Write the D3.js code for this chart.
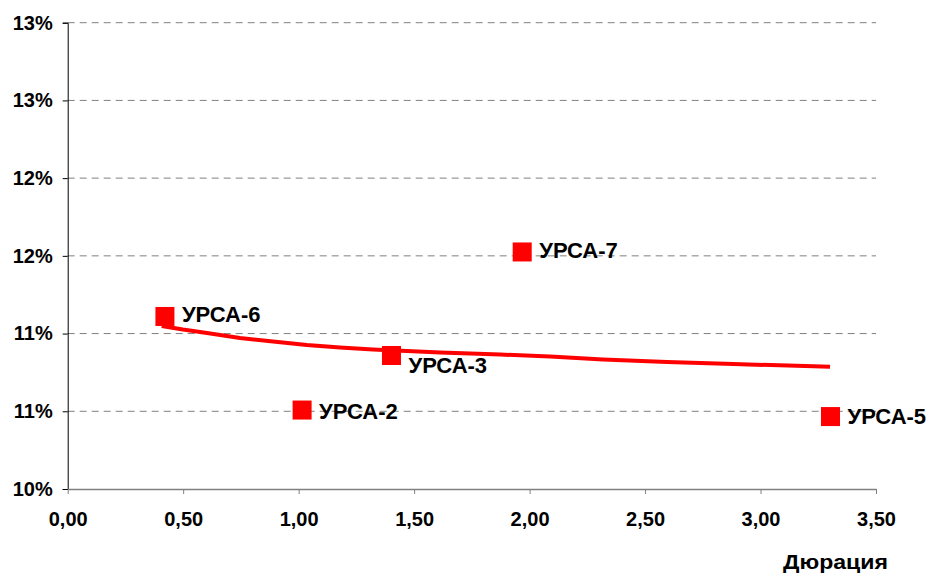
<!DOCTYPE html>
<html>
<head>
<meta charset="utf-8">
<script src="https://cdn.jsdelivr.net/npm/d3@7"></script>
<style>
    body { margin: 0; background: #fff; }
    text { font-family: "Liberation Sans", Arial, sans-serif; font-weight: bold; fill: #000; }
</style>
</head>
<body>
<svg id="chart" width="929" height="575"></svg>
<script>
// bonds: duration (years) and yield (%)
const bondNames = ["УРСА-6", "УРСА-2", "УРСА-3", "УРСА-7", "УРСА-5"];
const bondDuration = [0.421, 1.015, 1.402, 1.968, 3.303];
const bondYield = [11.11, 10.508, 10.859, 11.525, 10.466];

// fitted curve
const curveDuration = [0.407, 0.499, 0.603, 0.746, 0.889, 1.036, 1.179, 1.322, 1.469, 1.613, 1.873, 2.089, 2.318, 2.596, 2.882, 3.193, 3.301];
const curveYield = [11.049, 11.026, 11.004, 10.971, 10.949, 10.926, 10.910, 10.897, 10.888, 10.878, 10.865, 10.852, 10.833, 10.817, 10.804, 10.791, 10.787];

const xTicks = [0, 0.5, 1, 1.5, 2, 2.5, 3, 3.5];
const xTickLabels = ["0,00", "0,50", "1,00", "1,50", "2,00", "2,50", "3,00", "3,50"];
const yTicks = [10, 10.5, 11, 11.5, 12, 12.5, 13];
const yTickLabels = ["10%", "11%", "11%", "12%", "12%", "13%", "13%"];

const chart = d3.select("#chart");
const plotLeft = 67.7, plotRight = 876, plotTop = 22.7, plotBottom = 489;
const red = "#ff0000";
const gridColor = "#808080";

const x = d3.scaleLinear().domain([0, 3.5]).range([plotLeft, plotRight]);
const y = d3.scaleLinear().domain([10, 13]).range([plotBottom, plotTop]);

// gridlines
chart.append("g")
    .selectAll("line")
    .data(yTicks.slice(1))
    .enter()
    .append("line")
    .attr("x1", plotLeft)
    .attr("x2", plotRight)
    .attr("y1", d => y(d))
    .attr("y2", d => y(d))
    .attr("stroke", gridColor)
    .attr("stroke-width", 1)
    .attr("stroke-dasharray", "7,5");

// y axis
const yAxis = chart.append("g")
    .attr("transform", "translate(" + plotLeft + ",0)")
    .call(d3.axisLeft(y).tickValues(yTicks).tickSize(5).tickPadding(10)
        .tickFormat((d, i) => yTickLabels[i]));
yAxis.select(".domain").attr("stroke", "#000");
yAxis.selectAll(".tick line").attr("stroke", "#000");
yAxis.selectAll("text").attr("font-size", "20px").attr("fill", "#000");

// x axis
const xAxis = chart.append("g")
    .attr("transform", "translate(0," + plotBottom + ")")
    .call(d3.axisBottom(x).tickValues(xTicks).tickSize(5).tickSizeOuter(0).tickPadding(18)
        .tickFormat((d, i) => xTickLabels[i]));
xAxis.select(".domain").attr("stroke", gridColor).attr("stroke-width", 1.5);
xAxis.selectAll(".tick line").attr("stroke", gridColor);
xAxis.selectAll("text").attr("font-size", "20px").attr("fill", "#000");

chart.append("text")
    .text("Дюрация")
    .attr("x", 888)
    .attr("y", 569)
    .attr("font-size", "20px")
    .attr("text-anchor", "end")
    .attr("textLength", 105)
    .attr("lengthAdjust", "spacingAndGlyphs");

// curve
const line = d3.line()
    .x(d => x(d[0]))
    .y(d => y(d[1]));

chart.append("path")
    .datum(curveDuration.map((d, i) => [d, curveYield[i]]))
    .attr("d", line)
    .attr("fill", "none")
    .attr("stroke", red)
    .attr("stroke-width", 4)
    .attr("stroke-linejoin", "round");

// bond markers
const markerSize = 19;
const labelShiftY = [-2, 1, 10, -2, 0];

const bonds = chart.append("g")
    .selectAll("g")
    .data(bondNames)
    .enter()
    .append("g")
    .attr("transform", (d, i) => "translate(" + x(bondDuration[i]) + "," + y(bondYield[i]) + ")");

bonds.append("rect")
    .attr("x", -markerSize / 2)
    .attr("y", -markerSize / 2)
    .attr("width", markerSize)
    .attr("height", markerSize)
    .attr("fill", red);

bonds.append("text")
    .text(d => d)
    .attr("x", 17)
    .attr("y", (d, i) => labelShiftY[i])
    .attr("dy", "0.36em")
    .attr("font-size", "22px");
</script>
</body>
</html>
